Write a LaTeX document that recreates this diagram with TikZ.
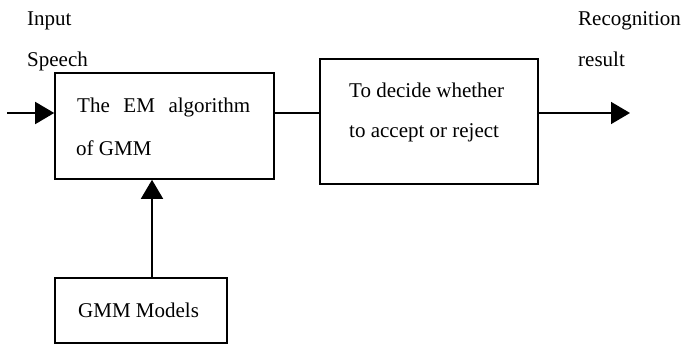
\documentclass[tikz,border=0pt]{standalone}
\usepackage{fontspec}
\setmainfont{Liberation Serif}
\usetikzlibrary{arrows.meta}
\begin{document}
\begin{tikzpicture}[x=1pt,y=-1pt,
  blk/.style={draw,line width=1.6pt,rectangle,inner sep=0pt},
  lbl/.style={anchor=base west,inner sep=0pt,font=\fontsize{21}{25}\selectfont},
  conn/.style={line width=1.6pt},
  arr/.style={line width=1.6pt,-{Triangle[length=19pt,width=22pt]}}]
\useasboundingbox (0,0) rectangle (684,347);
\node[blk,minimum width=219pt,minimum height=106pt] (em) at (164.5,126) {};
\node[blk,minimum width=218pt,minimum height=125pt] (dec) at (429,121.5) {};
\node[blk,minimum width=172pt,minimum height=65pt] (gmm) at (141,310.5) {};
% texts
\node[lbl] (t1) at (77,113) {\makebox[173pt][s]{The EM algorithm}};
\node[lbl] (t2) at (76,156) {of GMM};
\node[lbl] (t3) at (349,98) {To decide whether};
\node[lbl] (t4) at (349,138) {to accept or reject};
\node[lbl] (t5) at (78,317) {GMM Models};
\node[lbl] (in1) at (27,26) {Input};
\node[lbl] (in2) at (27,67) {Speech};
\node[lbl] (out1) at (578,26) {Recognition};
\node[lbl] (out2) at (578,67) {result};
% connectors
\coordinate (src) at (7,113);
\coordinate (dst) at (630,113);
\coordinate (vx) at (152,0);
\draw[arr] (src) -- (em.west |- src);
\draw[conn] (em.east |- src) -- (dec.west |- src);
\draw[arr] (dec.east |- src) -- (dst);
\draw[arr] (vx |- gmm.north) -- (vx |- em.south);
\end{tikzpicture}
\end{document}
